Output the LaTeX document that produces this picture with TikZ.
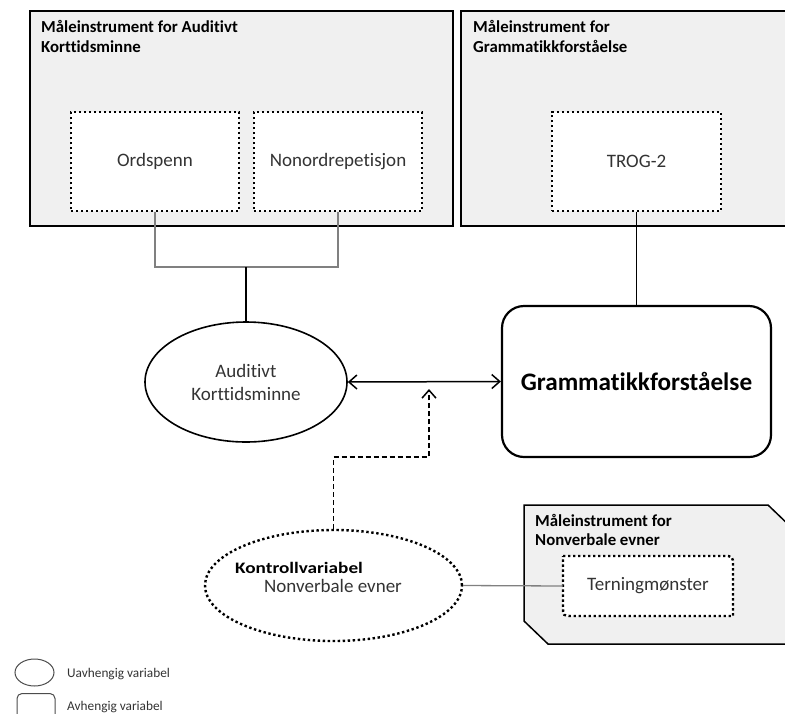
\documentclass[tikz,border=0pt]{standalone}
\usepackage{fontspec}
\setmainfont{Carlito}[Ligatures=NoCommon]
\usetikzlibrary{arrows.meta,shapes.geometric}

\begin{document}
\begin{tikzpicture}[x=1pt,y=-1pt,
    instr/.style={draw,line width=1.5pt,fill=black!6,inner sep=0pt},
    title/.style={anchor=base west,align=left,inner sep=0pt,font=\bfseries\fontsize{16.8}{20}\selectfont},
    dotline/.style={line width=2.4pt,dash pattern=on 2.4pt off 2.6pt},
    dotbox/.style={draw,dotline,fill=white,inner sep=0pt,
        minimum width=168pt,minimum height=99pt,text=black!80,font=\fontsize{19}{23}\selectfont},
    var/.style={ellipse,draw,line width=1.6pt,inner sep=0pt,align=center,text=black!80,
        font=\fontsize{19}{23}\selectfont},
    graylink/.style={draw=black!50,line width=1.3pt},
    barb/.style={line width=1.5pt,{Straight Barb[length=8pt,width=14pt]}-{Straight Barb[length=8pt,width=14pt]}},
    legtext/.style={anchor=base west,inner sep=0pt,text=black!80,font=\fontsize{13.3}{16}\selectfont}]
    \useasboundingbox (0,0) rectangle (785,713);
    \clip (0,0) rectangle (785,713);
    % Instrument boxes
    \node (audinstr) at (241.5,118.5) [instr,minimum width=423pt,minimum height=215pt] {};
    \node (graminstr) at (625.5,118.5) [instr,minimum width=329pt,minimum height=215pt] {};
    \node (audtitle) at (41,52) [title] {Måleinstrument for Auditivt\\Korttidsminne};
    \node (gramtitle) at (473,52) [title] {Måleinstrument for\\Grammatikkforståelse};
    \node (ord) at (155,161.5) [dotbox] {Ordspenn};
    \node (nonord) at (338,161.5) [dotbox] {Nonordrepetisjon};
    \node (trog) at (636.5,161.5) [dotbox,minimum width=169pt] {TROG-2};
    % Variables
    \node (aud) at (246,382) [var,minimum width=202pt,minimum height=120pt] {Auditivt\\Korttidsminne};
    \node (gram) at (636.5,381.5) [draw,line width=2.2pt,rounded corners=22pt,minimum width=269pt,minimum height=151pt,
        font=\bfseries\fontsize{25.2}{29}\selectfont] {Grammatikkforståelse};
    \node (kont) at (333.5,585.5) [var,dotline,minimum width=257pt,minimum height=111pt] {};
    \node (konttitle) at (235,573) [anchor=base west,inner sep=0pt,font=\bfseries\fontsize{16}{20}\selectfont]
        {\scalebox{1.2}[1]{Kontrollvariabel}};
    \node (kontname) at (264,592) [anchor=base west,inner sep=0pt,text=black!80,font=\fontsize{19}{23}\selectfont] {Nonverbale evner};
    % Nonverbal instrument
    \draw[line width=1.5pt,fill=black!6] (524,505) -- (768,505) -- (792,528) -- (792,644) -- (548,644) -- (524,621) -- cycle;
    \node (nvtitle) at (535,545) [title,font=\bfseries\fontsize{16.8}{18.5}\selectfont] {Måleinstrument for\\Nonverbale evner};
    \draw[dotline,fill=white] (563,556) -- (723,556) .. controls (733,556) .. (733,566) -- (733,616)
        -- (573,616) .. controls (563,616) .. (563,606) -- cycle;
    \node (tern) at (648,586) [minimum width=170pt,minimum height=60pt,inner sep=0pt,text=black!80,
        font=\fontsize{19}{23}\selectfont] {Terningmønster};
    % Connectors
    \coordinate (join) at (246,267);
    \draw[graylink] (ord.south) |- (join) -| (nonord.south);
    \draw[line width=1.3pt] (join) -- (aud.north);
    \draw[line width=1.3pt] (trog.south) -- (gram.north);
    \draw[barb] (aud.east) -- (gram.west);
    \coordinate (kbend) at (429,457);
    \coordinate (ctrl) at (429,389);
    \draw[line width=1.5pt,dash pattern=on 5pt off 3pt,-{Straight Barb[length=8pt,width=14pt]}] (kont.north) |- (kbend) -- (ctrl);
    \draw[graylink] (kont.east) -- (tern.west);
    % Legend
    \node (legell) at (34.5,672.5) [ellipse,draw=black!70,line width=1pt,minimum width=39pt,minimum height=27pt] {};
    \node (legelltext) at (67,677) [legtext] {Uavhengig variabel};
    \node (legbox) at (36,707) [draw=black!70,line width=1pt,rounded corners=5pt,minimum width=38pt,minimum height=27pt] {};
    \node (legboxtext) at (67,710) [legtext] {Avhengig variabel};
\end{tikzpicture}
\end{document}
